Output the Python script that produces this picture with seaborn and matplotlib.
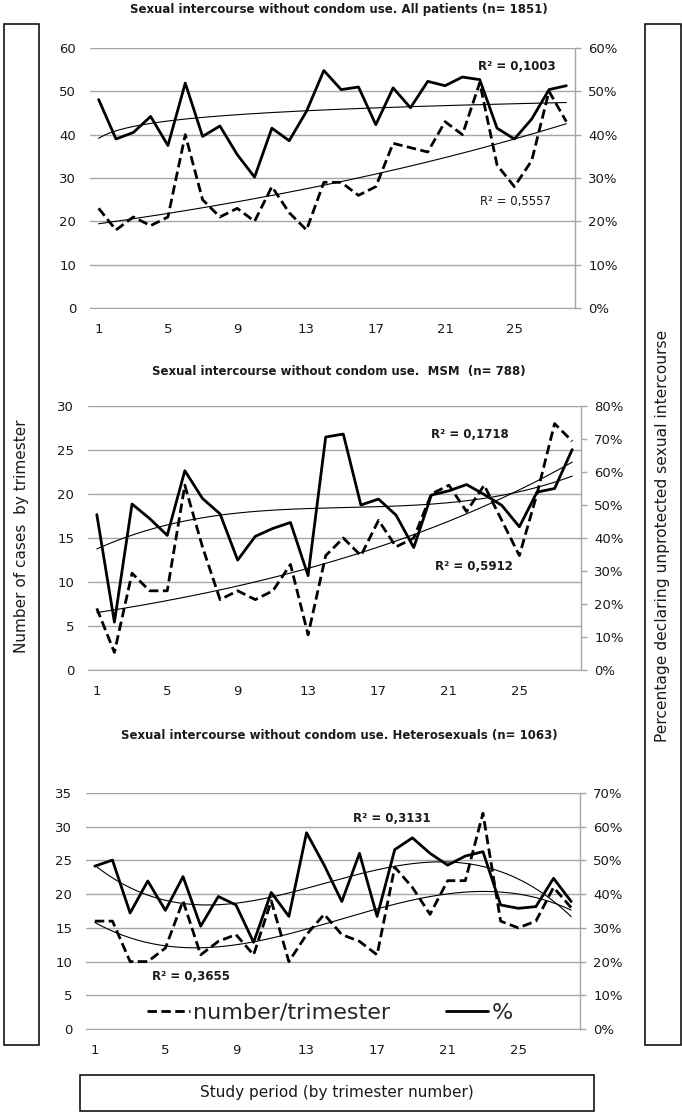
import numpy as np
import pandas as pd
import seaborn as sns
import matplotlib.pyplot as plt
from matplotlib.patches import Rectangle
from matplotlib.ticker import PercentFormatter, MultipleLocator

# trimester numbers
trimester = list(range(1, 29))

# All patients (n= 1851)
all_n = [23, 18, 21, 19, 21, 40, 25, 21, 23, 20, 28, 22, 18, 29, 29, 26, 28, 38, 37, 36,
         43, 40, 52, 33, 28, 34, 50, 43]
all_pct = [48.1, 39.0, 40.5, 44.2, 37.5, 51.9, 39.6, 42.0, 35.4, 30.2, 41.5, 38.6, 45.4, 54.8,
           50.4, 51.0, 42.3, 50.8, 46.2, 52.3, 51.3, 53.3, 52.7, 41.5, 39.0, 43.6, 50.4, 51.3]

# MSM (n= 788)
msm_n = [7, 2, 11, 9, 9, 21, 14, 8, 9, 8, 9, 12, 4, 13, 15, 13, 17, 14, 15, 20,
         21, 18, 21, 17, 13, 20, 28, 26]
msm_pct = [47.1, 14.5, 50.3, 45.9, 40.8, 60.4, 52.0, 47.3, 33.3, 40.5, 42.9, 44.7, 28.6, 70.6,
           71.5, 50.0, 51.8, 46.9, 37.1, 53.0, 54.3, 56.2, 53.2, 49.9, 43.4, 53.9, 55.0, 66.8]

# Heterosexuals (n= 1063)
het_n = [16, 16, 10, 10, 12, 19, 11, 13, 14, 11, 19, 10, 14, 17, 14, 13, 11, 24, 21, 17,
         22, 22, 32, 16, 15, 16, 21, 18]
het_pct = [48.3, 50.1, 34.4, 43.9, 35.2, 45.2, 30.5, 39.3, 36.8, 25.7, 40.5, 33.4, 58.2, 48.6,
           37.8, 52.1, 33.4, 53.2, 56.7, 52.1, 48.6, 51.3, 52.6, 36.8, 35.8, 36.3, 44.7, 37.8]

titles = ["Sexual intercourse without condom use. All patients (n= 1851)",
          "Sexual intercourse without condom use.  MSM  (n= 788)",
          "Sexual intercourse without condom use. Heterosexuals (n= 1063)"]
r2_pct = ["R\u00b2 = 0,1003", "R\u00b2 = 0,1718", "R\u00b2 = 0,3131"]
r2_n = ["R\u00b2 = 0,5557", "R\u00b2 = 0,5912", "R\u00b2 = 0,3655"]
xtick_labels = [1, 5, 9, 13, 17, 21, 25]

sns.set_style("white")
plt.rcParams['font.family'] = ['DejaVu Sans']

W, H = 682, 1115
fig = plt.figure(figsize=(W / 100, H / 100), dpi=100)


def fx(px):
    return px / W


def fy(py):
    return 1 - py / H


def trend(x, y, kind):
    x = np.asarray(x, float)
    y = np.asarray(y, float)
    xs = np.linspace(1, 28, 200)
    if kind == 'log':
        b, a = np.polyfit(np.log(x), y, 1)
        return xs, a + b * np.log(xs)
    if kind == 'exp':
        b, a = np.polyfit(x, np.log(y), 1)
        return xs, np.exp(a) * np.exp(b * xs)
    c = np.polyfit(x, y, 3)
    return xs, np.polyval(c, xs)


grid_c = '#a6a6a6'
txt_c = '#1a1a1a'
dash = (0, (3.4, 1.6))

panels = [
    # plot area in px (left, right, top, bottom), axis ranges, trend types, label spots
    dict(box=(90, 575, 48, 308), n=all_n, pct=all_pct, ymax=60, ystep=10, pmax=60,
         kn='exp', kp='log', t_y=9, r2p=(517, 67, 'bold'), r2n=(515, 202, 'normal')),
    dict(box=(88, 581, 406, 670), n=msm_n, pct=msm_pct, ymax=30, ystep=5, pmax=80,
         kn='exp', kp='poly', t_y=372, r2p=(470, 435, 'bold'), r2n=(474, 567, 'bold')),
    dict(box=(86, 580, 793, 1029), n=het_n, pct=het_pct, ymax=35, ystep=5, pmax=70,
         kn='poly', kp='poly', t_y=735, r2p=(392, 819, 'bold'), r2n=(191, 976, 'bold')),
]

for i, p in enumerate(panels):
    l, r, t, b = p['box']
    ax = fig.add_axes([fx(l), fy(b), (r - l) / W, (b - t) / H])
    ax2 = ax.twinx()

    sns.lineplot(x=trimester, y=p['n'], ax=ax, color='black', lw=2.0, linestyle=dash,
                 label='number/trimester', legend=False)
    tx, ty = trend(trimester, p['n'], p['kn'])
    sns.lineplot(x=tx, y=ty, ax=ax, color='black', lw=0.8, legend=False)

    sns.lineplot(x=trimester, y=p['pct'], ax=ax2, color='black', lw=2.0,
                 label='%', legend=False)
    tx, ty = trend(trimester, p['pct'], p['kp'])
    sns.lineplot(x=tx, y=ty, ax=ax2, color='black', lw=0.8, legend=False)

    ax.set_xlim(0.5, 28.5)
    ax.set_ylim(0, p['ymax'])
    ax2.set_ylim(0, p['pmax'])
    ax.yaxis.set_major_locator(MultipleLocator(p['ystep']))
    ax2.yaxis.set_major_locator(MultipleLocator(10))
    ax2.yaxis.set_major_formatter(PercentFormatter(100, decimals=0))
    ax.set_xticks(xtick_labels)
    ax.set_xticklabels([str(v) for v in xtick_labels])
    for a in (ax, ax2):
        a.set_xlabel('')
        a.set_ylabel('')

    ax.yaxis.grid(True, color=grid_c, lw=1.0)
    ax.set_axisbelow(True)
    for s in ['left', 'top', 'right']:
        ax.spines[s].set_visible(False)
    ax.spines['bottom'].set_color(grid_c)
    for s in ['left', 'top', 'bottom']:
        ax2.spines[s].set_visible(False)
    ax2.spines['right'].set_color(grid_c)
    ax2.spines['right'].set_linewidth(1.0)

    ax.tick_params(axis='y', length=0, pad=10, labelsize=9.5, labelcolor=txt_c)
    ax.tick_params(axis='x', length=0, pad=10.5, labelsize=9.5, labelcolor=txt_c)
    ax2.tick_params(axis='y', length=4.5, width=1, color=grid_c, pad=5,
                    labelsize=9.5, labelcolor=txt_c)

    fig.text(fx(339), fy(p['t_y']), titles[i], ha='center', va='center',
             fontsize=8.5, fontweight='bold', color=txt_c)
    x0, y0, wt = p['r2p']
    fig.text(fx(x0), fy(y0), r2_pct[i], ha='center', va='center', fontsize=8.5,
             fontweight=wt, color=txt_c)
    x0, y0, wt = p['r2n']
    fig.text(fx(x0), fy(y0), r2_n[i], ha='center', va='center', fontsize=8.5,
             fontweight=wt, color=txt_c)

    if i == 2:
        h1, l1 = ax.get_legend_handles_labels()
        h2, l2 = ax2.get_legend_handles_labels()
        ax2.legend(h1 + h2, l1 + l2, loc='center', bbox_to_anchor=(fx(330), fy(1013)),
                   bbox_transform=fig.transFigure, ncol=2, frameon=False, fontsize=16,
                   handlelength=1.9, handletextpad=0.15, columnspacing=2.5)

# boxes around the axis titles
for (x0, y0, x1, y1) in [(4, 24, 39, 1045), (645, 24, 681, 1045), (80, 1075, 594, 1111)]:
    fig.patches.append(Rectangle((fx(x0), fy(y1)), (x1 - x0) / W, (y1 - y0) / H,
                                 transform=fig.transFigure, fill=False,
                                 edgecolor='black', lw=1.1))

fig.text(fx(22), fy(536), "Number of cases  by trimester", rotation=90, ha='center',
         va='center', fontsize=11, color=txt_c)
fig.text(fx(663), fy(536), "Percentage declaring unprotected sexual intercourse",
         rotation=90, ha='center', va='center', fontsize=11.2, color=txt_c)
fig.text(fx(337), fy(1093), "Study period (by trimester number)", ha='center',
         va='center', fontsize=11, color=txt_c)

plt.savefig('out.png', dpi=100)
